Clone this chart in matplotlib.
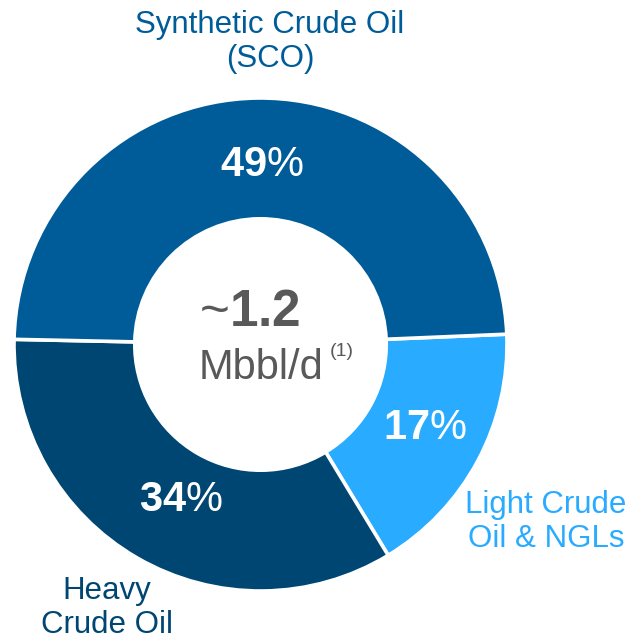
import matplotlib
matplotlib.use("Agg")
import matplotlib.pyplot as plt

plt.rcParams.update({
    'font.family': ['Liberation Sans', 'DejaVu Sans'],
    'mathtext.fontset': 'custom', 'mathtext.rm': 'Liberation Sans',
    'mathtext.bf': 'Liberation Sans:bold',
})

# data, in drawing order (clockwise from the right)
labels = ['Light Crude\nOil & NGLs', 'Heavy\nCrude Oil', 'Synthetic Crude Oil\n(SCO)']
shares = [17, 34, 49]
colors = ['#29ABFF', '#004673', '#005C99']
label_colors = ['#29ABFF', '#004673', '#005C99']
total_text = '1.2'
unit_text = 'Mbbl/d'

W, H = 635, 639
fig = plt.figure(figsize=(W / 100, H / 100), dpi=100)
ax = fig.add_axes([0, 0, 1, 1])

cx, cy, R = 260.5, H - 344.5, 246.5
ax.pie(shares, colors=colors, startangle=2.4, counterclock=False,
       center=(cx, cy), radius=R,
       wedgeprops=dict(width=R * 0.49, edgecolor='white', linewidth=2.6))
ax.set_xlim(0, W); ax.set_ylim(0, H)
ax.set_aspect('auto'); ax.axis('off')

# percentages inside the ring
pct_pos = [(425, 428), (181, 500), (262, 165)]
for v, (x, y) in zip(shares, pct_pos):
    ax.text(x, H - y, r'$\mathbf{%d}$%%' % v, color='white', fontsize=30,
            ha='center', va='center')

# category labels outside
lab_pos = [(546, 522), (107, 608), (270, 42)]
for lab, c, (x, y) in zip(labels, label_colors, lab_pos):
    ax.text(x, H - y, lab, color=c, fontsize=22.5, ha='center', va='center',
            linespacing=1.2)

# centre
grey = '#595959'
ax.text(250, H - 313, r'~$\mathbf{%s}$' % total_text, color=grey, fontsize=37,
        ha='center', va='center')
ax.text(261, H - 368, unit_text, color=grey, fontsize=30, ha='center', va='center')
ax.text(342, H - 352, '(1)', color=grey, fontsize=14, ha='center', va='center')

fig.savefig('out.png', dpi=100)
